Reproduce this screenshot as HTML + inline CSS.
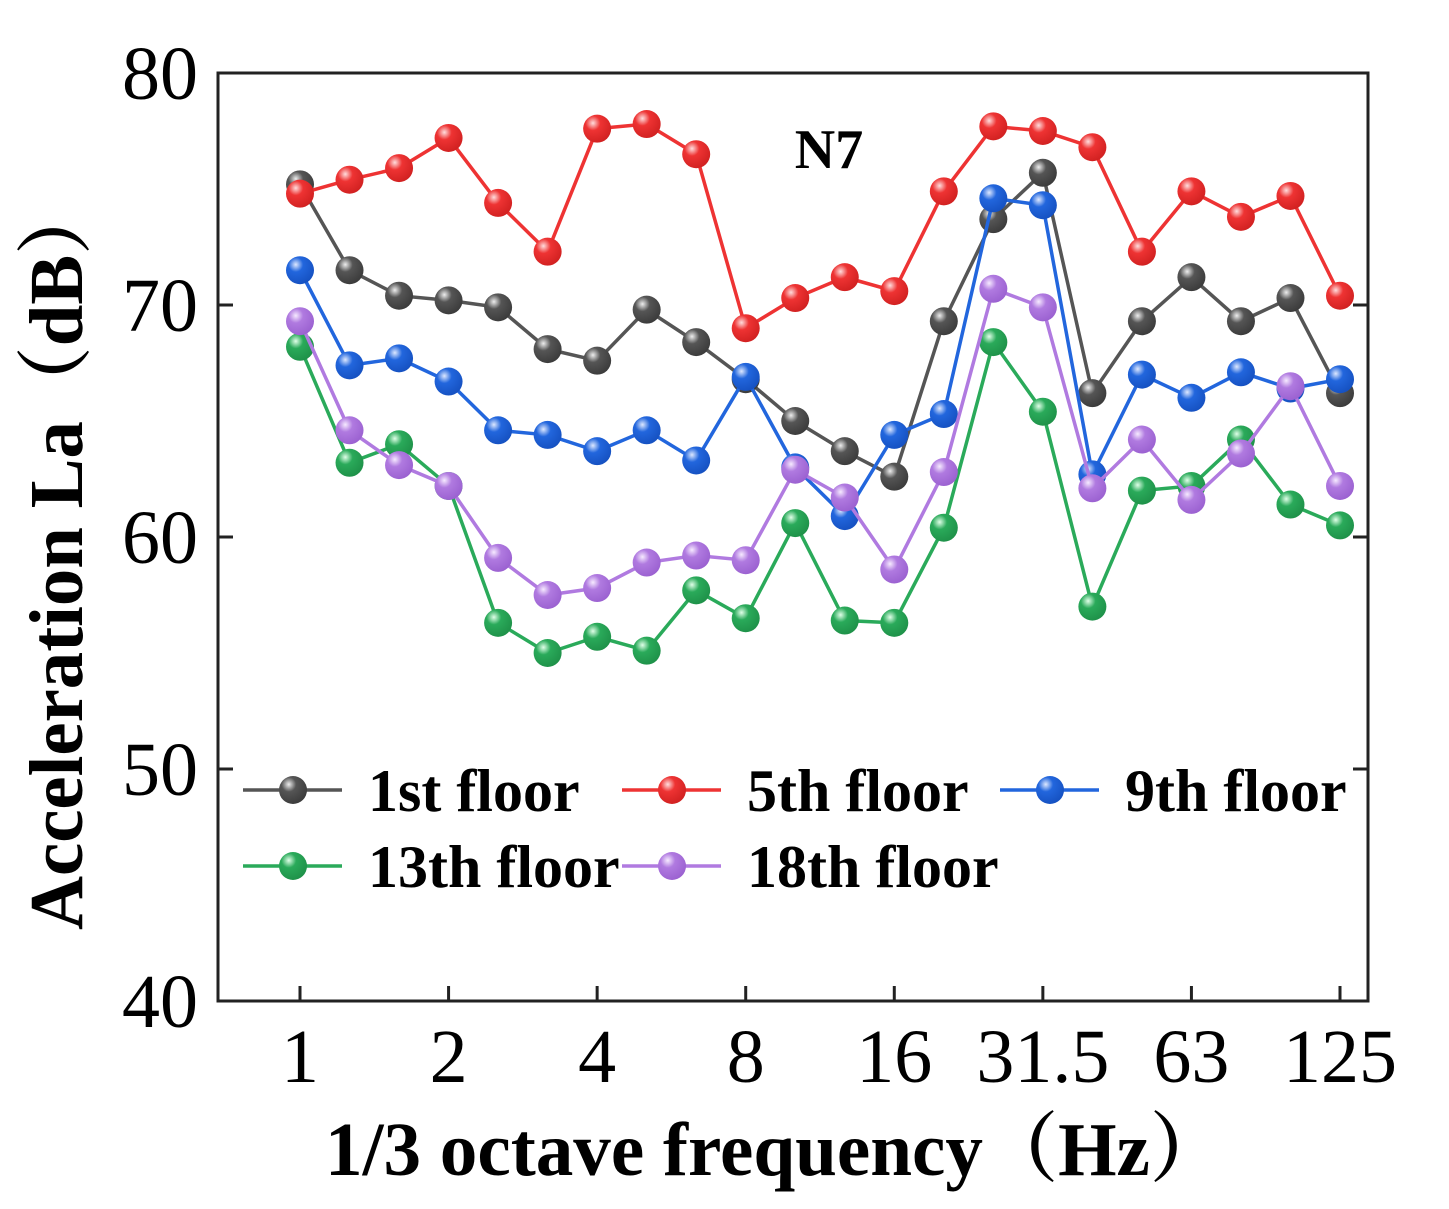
<!DOCTYPE html>
<html><head><meta charset="utf-8"><style>
html,body{margin:0;padding:0;background:#fff;}
svg{display:block;font-family:"Liberation Serif",serif;}
</style></head><body>
<svg id="chart" width="1449" height="1209" viewBox="0 0 1449 1209">
<defs>
<radialGradient id="g0" cx="0.35" cy="0.3" r="0.75"><stop offset="0" stop-color="#eee"/><stop offset="0.35" stop-color="#555"/><stop offset="1" stop-color="#3a3a3a"/></radialGradient>
<radialGradient id="g1" cx="0.35" cy="0.3" r="0.75"><stop offset="0" stop-color="#fdd"/><stop offset="0.35" stop-color="#ee3333"/><stop offset="1" stop-color="#d02020"/></radialGradient>
<radialGradient id="g2" cx="0.35" cy="0.3" r="0.75"><stop offset="0" stop-color="#dde8ff"/><stop offset="0.35" stop-color="#2266dd"/><stop offset="1" stop-color="#1550c0"/></radialGradient>
<radialGradient id="g3" cx="0.35" cy="0.3" r="0.75"><stop offset="0" stop-color="#e0ffe8"/><stop offset="0.35" stop-color="#2aaa5a"/><stop offset="1" stop-color="#1e9048"/></radialGradient>
<radialGradient id="g4" cx="0.35" cy="0.3" r="0.75"><stop offset="0" stop-color="#f6eaff"/><stop offset="0.35" stop-color="#b07ae0"/><stop offset="1" stop-color="#9a60d0"/></radialGradient>
</defs>
<g id="marks"></g>
<rect x="218" y="73" width="1150" height="928" fill="none" stroke="#222" stroke-width="3"/>
<g id="axes"></g>
<text x="829" y="168" font-size="56" font-weight="bold" text-anchor="middle">N7</text>
<text x="325" y="1175" font-size="76" font-weight="bold" textLength="900" lengthAdjust="spacingAndGlyphs" style="font-family:'Liberation Serif','Noto Serif CJK SC',serif">1/3 octave frequency（Hz）</text>
<text transform="translate(82,930) rotate(-90)" font-size="76" font-weight="bold" textLength="750" lengthAdjust="spacingAndGlyphs" style="font-family:'Liberation Serif','Noto Serif CJK SC',serif">Acceleration La（dB）</text>
<g id="legend"></g>
</svg>
<script>
const categories=["1","1.25","1.6","2","2.5","3.15","4","5","6.3","8","10","12.5","16","20","25","31.5","40","50","63","80","100","125"];
const xTickLabels=["1","2","4","8","16","31.5","63","125"];
const xTickIndex=[0,3,6,9,12,15,18,21];
const yTicks=[40,50,60,70,80];
const seriesNames=["1st floor","5th floor","9th floor","13th floor","18th floor"];
const floor1=[75.2,71.5,70.4,70.2,69.9,68.1,67.6,69.8,68.4,66.8,65.0,63.7,62.6,69.3,73.7,75.7,66.2,69.3,71.2,69.3,70.3,66.2];
const floor5=[74.8,75.4,75.9,77.2,74.4,72.3,77.6,77.8,76.5,69.0,70.3,71.2,70.6,74.9,77.7,77.5,76.8,72.3,74.9,73.8,74.7,70.4];
const floor9=[71.5,67.4,67.7,66.7,64.6,64.4,63.7,64.6,63.3,66.9,63.0,60.9,64.4,65.3,74.6,74.3,62.7,67.0,66.0,67.1,66.4,66.8];
const floor13=[68.2,63.2,64.0,62.2,56.3,55.0,55.7,55.1,57.7,56.5,60.6,56.4,56.3,60.4,68.4,65.4,57.0,62.0,62.2,64.2,61.4,60.5];
const floor18=[69.3,64.6,63.1,62.2,59.1,57.5,57.8,58.9,59.2,59.0,62.9,61.7,58.6,62.8,70.7,69.9,62.1,64.2,61.6,63.6,66.5,62.2];
const NS="http://www.w3.org/2000/svg";
const colors=["#555555","#ee3333","#2266dd","#2aaa5a","#b07ae0"];
const x=i=>300+i*(1040/(categories.length-1));
const y=v=>1001-(v-40)*(928/40);
function mk(t,a,p){const e=document.createElementNS(NS,t);for(const k in a)e.setAttribute(k,a[k]);p.appendChild(e);return e;}
const axes=document.getElementById('axes');
yTicks.forEach(v=>{
 mk('line',{x1:218,x2:233,y1:y(v),y2:y(v),stroke:'#222','stroke-width':3},axes);
 mk('line',{x1:1353,x2:1368,y1:y(v),y2:y(v),stroke:'#222','stroke-width':3},axes);
 const t=mk('text',{x:198,y:y(v)+26,'font-size':76,'text-anchor':'end'},axes);
 
 
 t.textContent=v;
});
xTickIndex.forEach((ci,k)=>{
 mk('line',{x1:x(ci),x2:x(ci),y1:986,y2:1001,stroke:'#222','stroke-width':3},axes);
 const t=mk('text',{x:x(ci),y:1082,'font-size':76,'text-anchor':'middle'},axes);
 
 
 t.textContent=xTickLabels[k];
});
const all=[floor1,floor5,floor9,floor13,floor18];
const marks=document.getElementById('marks');
all.forEach((s,si)=>{
 const g=mk('g',{},marks);
 
 
 mk('polyline',{points:s.map((v,i)=>x(i)+','+y(v)).join(' '),fill:'none',stroke:colors[si],'stroke-width':3.5},g);
 s.forEach((v,i)=>{
  const c=mk('circle',{cx:x(i),cy:y(v),r:14,fill:'url(#g'+si+')'},g);
  
  
 });
});
const lg=document.getElementById('legend');
const lpos=[[243,790],[622,790],[1000,790],[243,866],[622,866]];
seriesNames.forEach((n,i)=>{
 const [lx,ly]=lpos[i];
 const g=mk('g',{},lg);
 
 
 mk('line',{x1:lx,x2:lx+99,y1:ly,y2:ly,stroke:colors[i],'stroke-width':3.5},g);
 mk('circle',{cx:lx+50,cy:ly,r:14,fill:'url(#g'+i+')'},g);
 const t=mk('text',{x:lx+125,y:ly+21,'font-size':60,'font-weight':'bold'},g);
 t.textContent=n;
});
</script>
</body></html>
